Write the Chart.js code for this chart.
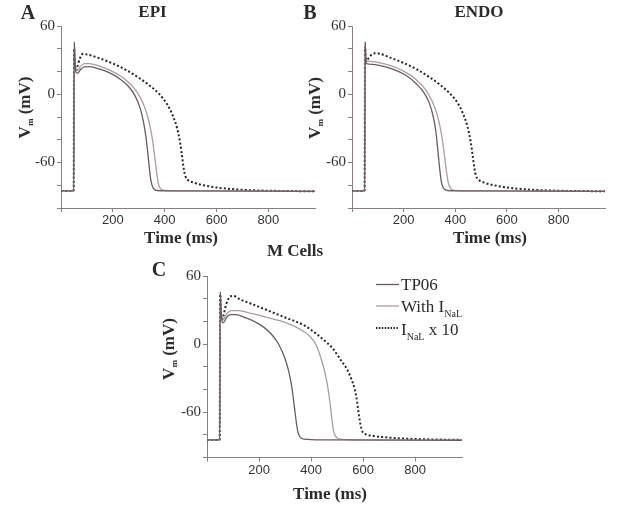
<!DOCTYPE html>
<html><head><meta charset="utf-8">
<script src="https://cdn.jsdelivr.net/npm/chart.js@4.4.1/dist/chart.umd.min.js"></script>
<style>
html,body{margin:0;padding:0;background:#fff;}
body{width:617px;height:506px;position:relative;overflow:hidden;}
canvas{position:absolute;}
</style></head><body>
<canvas id="cA" width="320" height="250" style="left:0;top:0"></canvas>
<canvas id="cB" width="317" height="250" style="left:300px;top:0"></canvas>
<canvas id="cC" width="320" height="266" style="left:150px;top:240px"></canvas>
<script>
// ---------- DATA ----------
const seriesNames = ['TP06', 'With I_NaL', 'I_NaL x 10'];
const xTicks = [0, 200, 400, 600, 800];
const yTicks = [-100, -80, -60, -40, -20, 0, 20, 40, 60];
const yLabels = [60, 0, -60];

// EPI
const epiTP06T = [0, 49, 51, 54, 58, 64, 75, 90, 110, 150, 190, 230, 260, 285, 305, 318, 328, 335, 340, 345, 350, 357, 370, 450, 980];
const epiTP06V = [-85, -85, 46, 30, 19, 18.5, 21.5, 24, 24.2, 22, 18.5, 13, 7, -1, -12, -24, -38, -52, -63, -73, -79, -83, -84.6, -85, -85.3];
const epiNaLT = [0, 49, 51, 54, 58, 64, 75, 90, 110, 150, 190, 230, 260, 290, 315, 335, 350, 360, 366, 371, 376, 384, 400, 480, 980];
const epiNaLV = [-85, -85, 46, 31, 21, 21, 24.5, 27, 27, 24.5, 21, 16, 10.5, 3, -7, -20, -36, -52, -63, -72, -79, -83, -84.6, -85, -85.3];
const epiX10T = [0, 49, 50.5, 53, 57, 63, 72, 85, 100, 150, 200, 250, 300, 340, 380, 410, 430, 448, 460, 468, 474, 480, 490, 510, 550, 600, 700, 800, 980];
const epiX10V = [-85, -85, 40, 30, 21, 24, 31, 35.5, 35, 31.5, 27, 21.5, 14.5, 8, 0, -9, -18, -30, -43, -56, -66, -72, -75.5, -77.5, -80, -82, -84, -84.8, -85.3];

// ENDO
const endoTP06T = [0, 49, 51, 53, 57, 65, 90, 130, 170, 210, 250, 280, 300, 315, 325, 332, 338, 343, 348, 356, 370, 450, 980];
const endoTP06V = [-85, -85, 46, 33, 27, 26.5, 26, 24, 21, 16.5, 9, 1, -8, -20, -33, -48, -62, -72, -79, -83, -84.6, -85, -85.3];
const endoNaLT = [0, 49, 51, 53, 57, 65, 90, 130, 170, 210, 250, 285, 310, 330, 345, 355, 362, 368, 373, 381, 395, 470, 980];
const endoNaLV = [-85, -85, 46, 34, 29.5, 29, 28.5, 26.5, 23.5, 19, 12.5, 4, -6, -18, -33, -48, -61, -71, -78, -82.5, -84.5, -85, -85.3];
const endoX10T = [0, 49, 50.5, 53, 57, 65, 80, 95, 150, 200, 250, 300, 340, 380, 410, 430, 448, 460, 468, 474, 480, 490, 510, 550, 600, 700, 800, 980];
const endoX10V = [-85, -85, 42, 33, 30, 32, 35.5, 36, 32, 27.5, 22, 15, 8.5, 0.5, -8, -17, -29, -42, -55, -65, -71.5, -75, -77.5, -80, -82, -84, -84.8, -85.3];

// M cells
const mTP06T = [0, 49, 51, 54, 58, 64, 75, 90, 110, 150, 185, 220, 250, 275, 300, 315, 326, 334, 340, 345, 350, 358, 372, 450, 980];
const mTP06V = [-84.5, -84.5, 46, 30, 19, 19, 23.5, 26, 26, 23, 19.5, 14.5, 8, 0, -13, -25, -38, -52, -63, -72, -78, -82, -83.8, -84.5, -84.8];
const mNaLT = [0, 49, 51, 54, 58, 64, 75, 95, 120, 170, 230, 294, 350, 397, 420, 436, 450, 462, 470, 476, 481, 486, 492, 502, 520, 600, 980];
const mNaLV = [-84.5, -84.5, 46, 31, 21, 22, 26.5, 29.5, 29.5, 27, 23.5, 19.5, 14, 6.5, -1, -11, -22, -35, -47, -58, -68, -76, -80.5, -83, -84, -84.5, -84.8];
const mX10T = [0, 49, 50.5, 53, 57, 63, 75, 90, 100, 130, 165, 230, 294, 371, 420, 449, 480, 514, 540, 555, 568, 577, 584, 590, 597, 610, 640, 700, 745, 850, 980];
const mX10V = [-84.5, -84.5, 44, 33, 21, 25, 36, 42, 42.5, 39, 36, 30, 24, 16.8, 9, 3.5, -3, -14, -23, -31, -40, -51, -63, -71, -77, -79.5, -81, -82.5, -83.2, -84, -84.5];

// ---------- STYLE ----------
const AXIS = '#8a7f7f';
const TXT = '#2b2b2b';
const COL_TP06 = '#6b5c5c';
const COL_NAL = '#ab9d9d';
const COL_X10 = '#262626';
const SERIF = '"Liberation Serif", "Times New Roman", serif';
const SANS = '"Liberation Sans", Arial, sans-serif';

const pts = (t, v) => t.map((x, i) => ({x: x, y: v[i]}));

function fontStr(p) {
  return (p.bold ? 'bold ' : '') + p.size + 'px ' + (p.family || SERIF);
}
function drawRich(ctx, it) {
  ctx.save();
  ctx.translate(it.x, it.y);
  if (it.rotate) ctx.rotate(it.rotate);
  const widths = it.parts.map(p => { ctx.font = fontStr(p); return ctx.measureText(p.t).width; });
  const total = widths.reduce((a, b) => a + b, 0);
  let x = it.align === 'left' ? 0 : -total / 2;
  ctx.textBaseline = 'alphabetic';
  ctx.textAlign = 'left';
  ctx.fillStyle = it.color || TXT;
  it.parts.forEach((p, i) => { ctx.font = fontStr(p); ctx.fillText(p.t, x, p.dy || 0); x += widths[i]; });
  ctx.restore();
}
const textPlugin = {
  id: 'panelText',
  afterDraw(chart, args, opts) {
    const ctx = chart.ctx;
    (opts.items || []).forEach(it => drawRich(ctx, it));
    if (opts.legend) {
      const lg = opts.legend;
      chart.data.datasets.forEach((ds, i) => {
        const row = lg.rows[i];
        ctx.save();
        ctx.strokeStyle = ds.borderColor;
        ctx.lineWidth = i === 2 ? 1.8 : 1.3;
        ctx.setLineDash(i === 2 ? [1.5, 1.4] : []);
        ctx.beginPath();
        ctx.moveTo(lg.x0, row.ly); ctx.lineTo(lg.x1, row.ly);
        ctx.stroke();
        ctx.restore();
        drawRich(ctx, {x: lg.tx, y: row.by, align: 'left', parts: row.parts});
      });
    }
  }
};

function vmTitle(x, y) {
  return {x: x, y: y, rotate: -Math.PI / 2, parts: [
    {t: 'V', size: 17, bold: true},
    {t: 'm', size: 9, bold: true, dy: 3},
    {t: ' (mV)', size: 17, bold: true}
  ]};
}
function label(t, x, y, size, bold) {
  return {x: x, y: y, parts: [{t: t, size: size, bold: bold}]};
}

function makePanel(id, data, geo, items, legend) {
  const ds = [
    {label: seriesNames[0], data: pts(data[0], data[1]), borderColor: COL_TP06, borderWidth: 1.3},
    {label: seriesNames[1], data: pts(data[2], data[3]), borderColor: COL_NAL, borderWidth: 1.3},
    {label: seriesNames[2], data: pts(data[4], data[5]), borderColor: COL_X10, borderWidth: 2, borderDash: [2, 2.2], borderCapStyle: 'butt'}
  ].map(d => Object.assign(d, {pointRadius: 0, fill: false, cubicInterpolationMode: 'monotone'}));
  return new Chart(document.getElementById(id), {
    type: 'line',
    data: {datasets: ds},
    options: {
      responsive: false, animation: false, events: [],
      layout: {padding: {top: geo.top, right: geo.right, left: 0, bottom: 0}},
      plugins: {legend: {display: false}, tooltip: {enabled: false}, panelText: {items: items, legend: legend}},
      scales: {
        x: {
          type: 'linear', min: 0, max: 980,
          afterBuildTicks: s => { s.ticks = xTicks.map(v => ({value: v})); },
          afterFit: s => { s.height = geo.xh; },
          ticks: {callback: v => (v === 0 ? '' : String(v)), font: {family: SANS, size: 13}, color: '#333', padding: 1, maxRotation: 0, autoSkip: false},
          grid: {drawOnChartArea: false, drawTicks: true, tickLength: 4, tickColor: AXIS, color: AXIS},
          border: {color: AXIS, width: 1}
        },
        y: {
          type: 'linear', min: -100, max: 60,
          afterBuildTicks: s => { s.ticks = yTicks.map(v => ({value: v})); },
          afterFit: s => { s.width = geo.yw; },
          ticks: {callback: v => (yLabels.includes(v) ? String(v) : ''), font: {family: SERIF, size: 15}, color: '#333', padding: 2, autoSkip: false},
          grid: {drawOnChartArea: false, drawTicks: true, tickLength: 4, tickColor: AXIS, color: AXIS},
          border: {color: AXIS, width: 1}
        }
      }
    },
    plugins: [textPlugin]
  });
}

makePanel('cA', [epiTP06T, epiTP06V, epiNaLT, epiNaLV, epiX10T, epiX10V],
  {top: 26, right: 5, xh: 42, yw: 61},
  [label('A', 28, 18.5, 20, true), label('EPI', 152.5, 17, 17, true),
   vmTitle(30, 107.5), label('Time (ms)', 181, 243, 17, true)]);

makePanel('cB', [endoTP06T, endoTP06V, endoNaLT, endoNaLV, endoX10T, endoX10V],
  {top: 26, right: 12, xh: 42, yw: 52},
  [label('B', 10, 18.5, 20, true), label('ENDO', 179, 17, 17, true),
   vmTitle(19.5, 108), label('Time (ms)', 190, 243, 17, true)]);

makePanel('cC', [mTP06T, mTP06V, mNaLT, mNaLV, mX10T, mX10V],
  {top: 36, right: 8, xh: 48.5, yw: 57},
  [label('C', 9, 35.5, 20, true), label('M Cells', 145, 16, 17, true),
   vmTitle(24, 109), label('Time (ms)', 180, 259, 17, true)],
  {x0: 226, x1: 249, tx: 251, rows: [
    {ly: 44.5, by: 49.5, parts: [{t: 'TP06', size: 17}]},
    {ly: 66, by: 71.5, parts: [{t: 'With I', size: 17}, {t: 'NaL', size: 10, dy: 5}]},
    {ly: 88, by: 94.5, parts: [{t: 'I', size: 17}, {t: 'NaL', size: 10, dy: 5}, {t: ' x 10', size: 17}]}
  ]});
</script>
</body></html>
